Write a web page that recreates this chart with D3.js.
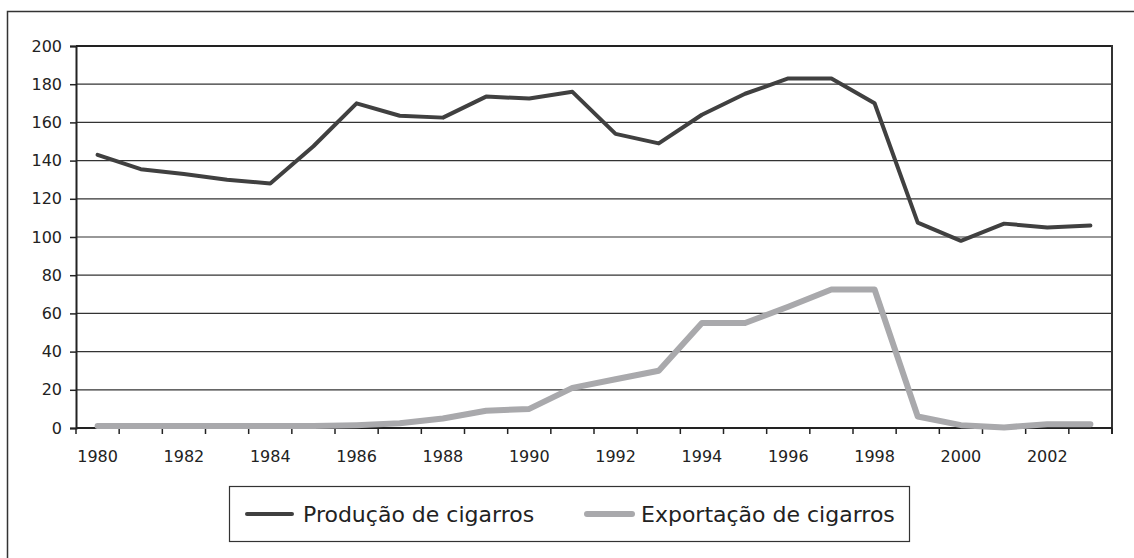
<!DOCTYPE html>
<html><head><meta charset="utf-8">
<script src="https://cdn.jsdelivr.net/npm/d3@7"></script>
<style>
html,body{margin:0;padding:0;background:#fff;}
svg{display:block;font-family:"DejaVu Sans",sans-serif;}
</style></head><body>
<svg id="c" width="1134" height="558"></svg>
<script>
const years = [1980,1981,1982,1983,1984,1985,1986,1987,1988,1989,1990,1991,1992,1993,1994,1995,1996,1997,1998,1999,2000,2001,2002,2003];
const producao = [143,135.5,133,130,128,147.5,170,163.5,162.5,173.5,172.5,176,154,149,164,175,183,183,170,107.5,98,107,105,106];
const exportacao = [1,1,1,1,1,1,1.5,2.5,5,9,10,21,25.5,30,55,55,63.5,72.5,72.5,6,1.5,0.3,2,2];
const yTicks = [0,20,40,60,80,100,120,140,160,180,200];
const xLabels = [1980,1982,1984,1986,1988,1990,1992,1994,1996,1998,2000,2002];
const seriesNames = ["Produção de cigarros","Exportação de cigarros"];

const svg = d3.select("#c");
const L=76, R=1112, T=46, B=428;
const x = d3.scaleBand().domain(years).range([L,R]);
const y = d3.scaleLinear().domain([0,200]).range([B,T]);
const FONT = "DejaVu Sans";

svg.append("rect").attr("x",7.5).attr("y",11.5).attr("width",1140).attr("height",560)
  .attr("fill","none").attr("stroke","#333").attr("stroke-width",1.5);

svg.append("g").selectAll("line").data(yTicks.filter(d=>d>0)).join("line")
  .attr("x1",L).attr("x2",R).attr("y1",d=>y(d)).attr("y2",d=>y(d))
  .attr("stroke",d=>d===200?"#222":"#333").attr("stroke-width",d=>d===200?2:1.2);
svg.append("line").attr("x1",R).attr("x2",R).attr("y1",T-1).attr("y2",B+6)
  .attr("stroke","#333").attr("stroke-width",2);

const ya = svg.append("g").attr("transform",`translate(${L},0)`)
  .call(d3.axisLeft(y).tickValues(yTicks).tickSize(6).tickPadding(8).tickFormat(d3.format("d")));
ya.attr("font-family",FONT).attr("font-size",16);
ya.select(".domain").attr("stroke","#222").attr("stroke-width",2);
ya.selectAll(".tick line").attr("stroke","#222").attr("stroke-width",1.5);
ya.selectAll("text").attr("fill","#222");

const xa = svg.append("g").attr("transform",`translate(0,${B})`);
xa.append("line").attr("x1",L).attr("x2",R).attr("stroke","#222").attr("stroke-width",2);
const bounds = years.map(d=>x(d)).concat([x(years[years.length-1])+x.bandwidth()]);
xa.selectAll("line.t").data(bounds).join("line").attr("class","t")
  .attr("x1",d=>d).attr("x2",d=>d).attr("y1",0).attr("y2",6)
  .attr("stroke","#222").attr("stroke-width",1.5);
xa.selectAll("text").data(xLabels).join("text")
  .attr("x",d=>x(d)+x.bandwidth()/2).attr("y",34)
  .attr("text-anchor","middle").attr("font-family",FONT).attr("font-size",16).attr("fill","#222").text(d=>d);

const line = d3.line().x((d,i)=>x(years[i])+x.bandwidth()/2).y(d=>y(d));
svg.append("path").datum(exportacao).attr("d",line).attr("fill","none")
  .attr("stroke","#a9a9ac").attr("stroke-width",6).attr("stroke-linejoin","round").attr("stroke-linecap","round");
svg.append("path").datum(producao).attr("d",line).attr("fill","none")
  .attr("stroke","#404040").attr("stroke-width",4).attr("stroke-linejoin","round").attr("stroke-linecap","round");

const lg = svg.append("g");
lg.append("rect").attr("x",229.5).attr("y",486.5).attr("width",680).attr("height",55)
  .attr("fill","#fff").attr("stroke","#333").attr("stroke-width",1.2);
const items = [
  {name:seriesNames[0], x0:247, color:"#404040", w:4, tx:303},
  {name:seriesNames[1], x0:587, color:"#a9a9ac", w:6, tx:641}
];
items.forEach(it=>{
  lg.append("line").attr("x1",it.x0).attr("x2",it.x0+45).attr("y1",514).attr("y2",514)
    .attr("stroke",it.color).attr("stroke-width",it.w).attr("stroke-linecap","round");
  lg.append("text").attr("x",it.tx).attr("y",521.5).attr("font-family",FONT).attr("font-size",22).attr("fill","#222").text(it.name);
});
</script>
</body></html>
